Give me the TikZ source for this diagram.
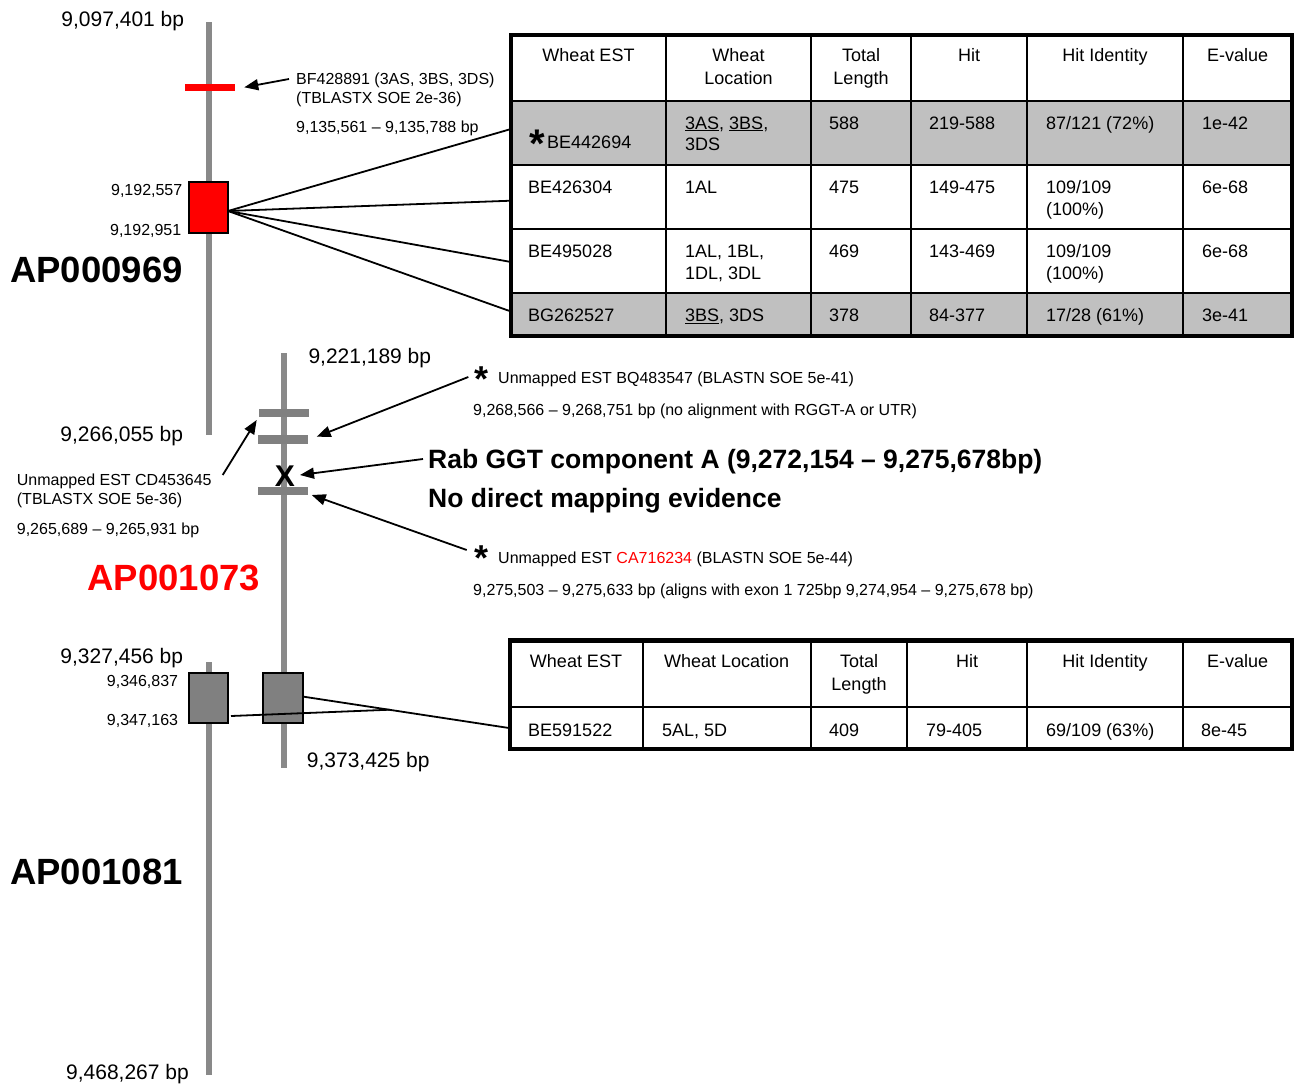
\documentclass[tikz,border=0pt]{standalone}
\usepackage{fontspec}
\setmainfont{Liberation Sans}
\usetikzlibrary{arrows.meta}
\definecolor{chromgray}{RGB}{137,137,137}
\definecolor{tickgray}{RGB}{128,128,128}
\definecolor{rowgray}{RGB}{192,192,192}
\definecolor{boxgray}{RGB}{128,128,128}
\definecolor{estred}{RGB}{255,0,0}
\newcommand\fsz[1]{\fontsize{#1}{#1}\selectfont}
\begin{document}
\begin{tikzpicture}[x=1pt,y=-1pt,
 chrom/.style={draw=chromgray,line width=6.5pt},
 tickbar/.style={fill=tickgray,minimum width=50pt,minimum height=8.5pt,inner sep=0pt},
 txs/.style={font=\fsz{16},inner sep=0pt},
 txb/.style={font=\fsz{21},inner sep=0pt},
 txt/.style={font=\fsz{18},inner sep=0pt},
 aplabel/.style={font=\fsz{36.5}\bfseries,inner sep=0pt},
 rabtext/.style={font=\fsz{26.5}\bfseries,inner sep=0pt},
 starmark/.style={font=\fsz{36}\bfseries,inner sep=0pt},
 arr/.style={-{Triangle[length=14pt,width=11pt]},line width=1.8pt},
 conn/.style={line width=1.8pt},
 tline/.style={line width=2pt},
 touter/.style={line width=4.5pt},
 featbox/.style={draw=black,line width=2pt,minimum width=39.5pt,minimum height=50.5pt,inner sep=0pt},
]
\useasboundingbox (0,0) rectangle (1298,1084);

% ---------- chromosome lines ----------
\draw[chrom] (209,22) -- (209,435);
\draw[chrom] (284,353) -- (284,768);
\draw[chrom] (209,662) -- (209,1075);

% ---------- top section ----------
\node[txb,anchor=base east] (bp1) at (184.3,26) {9,097,401 bp};
\node[fill=estred,minimum width=50pt,minimum height=7pt,inner sep=0pt] (redbar) at (210,87) {};
\node[txs,anchor=base west] (bfa) at (296,84) {BF428891 (3AS, 3BS, 3DS)};
\node[txs,anchor=base west] (bfb) at (296,103.3) {(TBLASTX SOE 2e-36)};
\node[txs,anchor=base west] (bfc) at (296,132.3) {9,135,561 -- 9,135,788 bp};
\coordinate (bftail) at (289,79);
\coordinate (bftip) at (244.3,87.3);
\draw[arr] (bftail) -- (bftip);

\node[featbox,fill=estred] (redbox) at (208.5,207.6) {};
\node[txs,anchor=base east] (rb1) at (182.5,195) {9,192,557};
\node[txs,anchor=base east] (rb2) at (181.5,235.3) {9,192,951};
\node[aplabel,anchor=base west] (ap1) at (10,282.7) {AP000969};

\coordinate (rsrc) at (228,211);
\coordinate (ta) at (511,129);
\coordinate (tb) at (511,200.7);
\coordinate (tc) at (511,262);
\coordinate (td) at (511,311.5);
\draw[conn] (rsrc) -- (ta);
\draw[conn] (rsrc) -- (tb);
\draw[conn] (rsrc) -- (tc);
\draw[conn] (rsrc) -- (td);

% ---------- table 1 ----------
\fill[rowgray] (511,101) rectangle (1292,165);
\fill[rowgray] (511,293) rectangle (1292,336);
\foreach \y in {101,165,229,293} \draw[tline] (511,\y) -- (1292,\y);
\foreach \x in {666,811,911,1027,1183} \draw[tline] (\x,35) -- (\x,336);
\draw[touter] (511,35) rectangle (1292,336);

\node[txt,anchor=base] (h1a) at (588.5,61.5) {Wheat EST};
\node[txt,anchor=base] (h1b) at (738.5,61.5) {Wheat};
\node[txt,anchor=base] (h1b2) at (738.5,84.5) {Location};
\node[txt,anchor=base] (h1c) at (861,61.5) {Total};
\node[txt,anchor=base] (h1c2) at (861,84.5) {Length};
\node[txt,anchor=base] (h1d) at (969,61.5) {Hit};
\node[txt,anchor=base] (h1e) at (1105,61.5) {Hit Identity};
\node[txt,anchor=base] (h1f) at (1237.5,61.5) {E-value};

% row 2
\node[font=\fsz{40}\bfseries,inner sep=0pt,anchor=base] (st0) at (537.7,157) {*};
\node[txt,anchor=base west] (r2a) at (547,148) {BE442694};
\node[txt,anchor=base west] (r2b) at (685,129) {\underline{3AS}, \underline{3BS},};
\node[txt,anchor=base west] (r2b2) at (685,150.5) {3DS};
\node[txt,anchor=base west] (r2c) at (829,129) {588};
\node[txt,anchor=base west] (r2d) at (929,129) {219-588};
\node[txt,anchor=base west] (r2e) at (1046,129) {87/121 (72\%)};
\node[txt,anchor=base west] (r2f) at (1202,129) {1e-42};
% row 3
\node[txt,anchor=base west] (r3a) at (528,193.5) {BE426304};
\node[txt,anchor=base west] (r3b) at (685,193.5) {1AL};
\node[txt,anchor=base west] (r3c) at (829,193.5) {475};
\node[txt,anchor=base west] (r3d) at (929,193.5) {149-475};
\node[txt,anchor=base west] (r3e) at (1046,193.5) {109/109};
\node[txt,anchor=base west] (r3e2) at (1046,215.5) {(100\%)};
\node[txt,anchor=base west] (r3f) at (1202,193.5) {6e-68};
% row 4
\node[txt,anchor=base west] (r4a) at (528,257.5) {BE495028};
\node[txt,anchor=base west] (r4b) at (685,257.5) {1AL, 1BL,};
\node[txt,anchor=base west] (r4b2) at (685,279.5) {1DL, 3DL};
\node[txt,anchor=base west] (r4c) at (829,257.5) {469};
\node[txt,anchor=base west] (r4d) at (929,257.5) {143-469};
\node[txt,anchor=base west] (r4e) at (1046,257.5) {109/109};
\node[txt,anchor=base west] (r4e2) at (1046,279.5) {(100\%)};
\node[txt,anchor=base west] (r4f) at (1202,257.5) {6e-68};
% row 5
\node[txt,anchor=base west] (r5a) at (528,321.5) {BG262527};
\node[txt,anchor=base west] (r5b) at (685,321.5) {\underline{3BS}, 3DS};
\node[txt,anchor=base west] (r5c) at (829,321.5) {378};
\node[txt,anchor=base west] (r5d) at (929,321.5) {84-377};
\node[txt,anchor=base west] (r5e) at (1046,321.5) {17/28 (61\%)};
\node[txt,anchor=base west] (r5f) at (1202,321.5) {3e-41};

% ---------- middle section ----------
\node[txb,anchor=base west] (bp2) at (308.3,363.3) {9,221,189 bp};
\node[txb,anchor=base east] (bp3) at (183.3,441.7) {9,266,055 bp};
\node[tickbar] (tk1) at (284.2,412.8) {};
\node[tickbar] (tk2) at (283,439.5) {};
\node[tickbar] (tk3) at (282.5,491) {};
\node[font=\fsz{30}\bfseries,inner sep=0pt,anchor=base] (xmark) at (285,486.7) {X};

\node[txs,anchor=base west] (cda) at (16.7,485) {Unmapped EST CD453645};
\node[txs,anchor=base west] (cdb) at (16.7,504.3) {(TBLASTX SOE 5e-36)};
\node[txs,anchor=base west] (cdc) at (16.7,534) {9,265,689 -- 9,265,931 bp};
\node[aplabel,anchor=base west,text=estred] (ap2) at (87.3,590) {AP001073};

\node[starmark,anchor=base] (st1) at (481.5,391) {*};
\node[txs,anchor=base west] (bqa) at (498,383) {Unmapped EST BQ483547 (BLASTN SOE 5e-41)};
\node[txs,anchor=base west] (bqb) at (473,415) {9,268,566 -- 9,268,751 bp (no alignment with RGGT-A or UTR)};
\node[rabtext,anchor=base west] (raba) at (428,468.5) {Rab GGT component A (9,272,154 -- 9,275,678bp)};
\node[rabtext,anchor=base west] (rabb) at (428,507.5) {No direct mapping evidence};
\node[starmark,anchor=base] (st2) at (481.5,570) {*};
\node[txs,anchor=base west] (caa) at (498,563) {Unmapped EST \textcolor{estred}{CA716234} (BLASTN SOE 5e-44)};
\node[txs,anchor=base west] (cab) at (473,595) {9,275,503 -- 9,275,633 bp (aligns with exon 1 725bp 9,274,954 -- 9,275,678 bp)};

\coordinate (cdtail) at (222.7,475);
\coordinate (cdtip) at (256.7,420);
\coordinate (bqtail) at (468.3,377);
\coordinate (bqtip) at (316.7,436.7);
\coordinate (xtail) at (423,459);
\coordinate (xtip) at (300,475);
\coordinate (catail) at (466.7,550);
\coordinate (catip) at (311.7,495);
\draw[arr] (cdtail) -- (cdtip);
\draw[arr] (bqtail) -- (bqtip);
\draw[arr] (xtail) -- (xtip);
\draw[arr] (catail) -- (catip);

% ---------- bottom section ----------
\node[txb,anchor=base east] (bp4) at (183.3,663.3) {9,327,456 bp};
\node[txs,anchor=base east] (gb1) at (178.3,686) {9,346,837};
\node[txs,anchor=base east] (gb2) at (178.3,725.7) {9,347,163};
\node[featbox,fill=boxgray] (gbox1) at (208.4,697.9) {};
\node[featbox,fill=boxgray] (gbox2) at (283.2,698.2) {};
\node[txb,anchor=base west] (bp5) at (306.7,767.7) {9,373,425 bp};
\node[aplabel,anchor=base west] (ap3) at (10,884) {AP001081};
\node[txb,anchor=base east] (bp6) at (189,1079) {9,468,267 bp};

\coordinate (g2src) at (303.7,696.7);
\coordinate (t2in) at (511,728.3);
\coordinate (g1src) at (231,716);
\coordinate (gmeet) at (390,709.7);
\draw[conn] (g2src) -- (t2in);
\draw[conn] (g1src) -- (gmeet);

% ---------- table 2 ----------
\draw[tline] (510,707.3) -- (1292,707.3);
\foreach \x in {642.5,811,907,1027,1183} \draw[tline] (\x,640.5) -- (\x,749);
\draw[touter] (510,640.5) rectangle (1292,749);

\node[txt,anchor=base] (h2a) at (576,667.5) {Wheat EST};
\node[txt,anchor=base] (h2b) at (726.7,667.5) {Wheat Location};
\node[txt,anchor=base] (h2c) at (859,667.5) {Total};
\node[txt,anchor=base] (h2c2) at (859,690) {Length};
\node[txt,anchor=base] (h2d) at (967,667.5) {Hit};
\node[txt,anchor=base] (h2e) at (1105,667.5) {Hit Identity};
\node[txt,anchor=base] (h2f) at (1237.5,667.5) {E-value};

\node[txt,anchor=base west] (d2a) at (528,736) {BE591522};
\node[txt,anchor=base west] (d2b) at (662,736) {5AL, 5D};
\node[txt,anchor=base west] (d2c) at (829,736) {409};
\node[txt,anchor=base west] (d2d) at (926,736) {79-405};
\node[txt,anchor=base west] (d2e) at (1046,736) {69/109 (63\%)};
\node[txt,anchor=base west] (d2f) at (1201,736) {8e-45};
\end{tikzpicture}
\end{document}
